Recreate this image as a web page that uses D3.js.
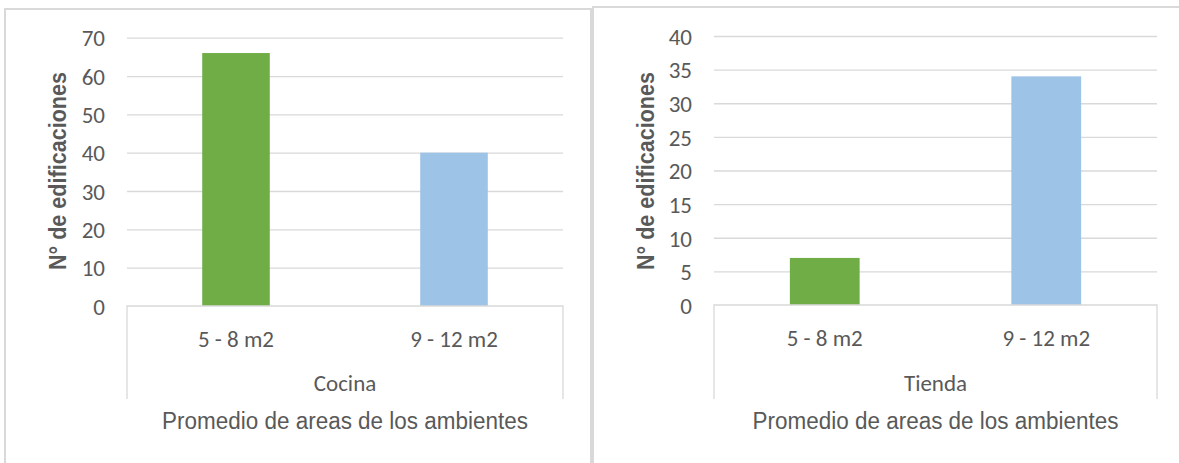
<!DOCTYPE html>
<html>
<head>
<meta charset="utf-8">
<script src="https://cdn.jsdelivr.net/npm/d3@7"></script>
<style>
  html, body { margin: 0; padding: 0; background: #fff; }
  svg { display: block; }
</style>
</head>
<body>
<svg id="chart" width="1179" height="463"></svg>
<script>
// ---- data ----
const categories = ["5 - 8 m2", "9 - 12 m2"];
const cocinaValues = [66, 40];
const tiendaValues = [7, 34];
const cocinaTicks = [0, 10, 20, 30, 40, 50, 60, 70];
const tiendaTicks = [0, 5, 10, 15, 20, 25, 30, 35, 40];
const groupLabels = ["Cocina", "Tienda"];
const yTitle = "N° de edificaciones";
const xTitle = "Promedio de areas de los ambientes";
const barColors = ["#70AD47", "#9DC3E6"];

const svg = d3.select("#chart");
const textColor = "#595959";
const gridColor = "#d9d9d9";
const tickFont = "Carlito, Lato, 'Open Sans', sans-serif";
const titleFont = "'Liberation Sans Narrow', 'Arial Narrow', 'Liberation Sans', Arial, sans-serif";

// panel frames
svg.append("rect").attr("x", 5).attr("y", 9).attr("width", 586).attr("height", 480)
  .attr("fill", "#fff").attr("stroke", gridColor).attr("stroke-width", 2);
svg.append("rect").attr("x", 593).attr("y", 7).attr("width", 600).attr("height", 480)
  .attr("fill", "#fff").attr("stroke", gridColor).attr("stroke-width", 2);

function drawPanel(cfg) {
  const g = svg.append("g");
  const y = d3.scaleLinear().domain([0, d3.max(cfg.ticks)]).range([cfg.y0, cfg.yTop]);
  const x = d3.scaleBand().domain(categories).range([cfg.left, cfg.right])
    .paddingInner(cfg.pad).paddingOuter(cfg.pad / 2);

  // gridlines
  const grid = g.append("g").attr("transform", `translate(${cfg.left},0)`)
    .call(d3.axisLeft(y).tickValues(cfg.ticks.filter(t => t > 0)).tickSize(-(cfg.right - cfg.left)).tickFormat(""));
  grid.select(".domain").remove();
  grid.selectAll("line").attr("stroke", gridColor).attr("stroke-width", 1.3);

  // y tick labels
  const ya = g.append("g").attr("transform", `translate(${cfg.left},0)`)
    .call(d3.axisLeft(y).tickValues(cfg.ticks).tickSize(0).tickPadding(22));
  ya.select(".domain").remove();
  ya.selectAll("text").attr("fill", textColor).attr("font-family", tickFont)
    .attr("font-size", 23).attr("dy", "0.36em");

  // bars
  g.selectAll("rect.bar").data(cfg.values).join("rect").attr("class", "bar")
    .attr("x", (d, i) => x(categories[i]))
    .attr("width", x.bandwidth())
    .attr("y", d => y(d))
    .attr("height", d => y(0) - y(d))
    .attr("fill", (d, i) => barColors[i]);

  // category axis box
  g.append("path")
    .attr("d", `M${cfg.left},${cfg.boxBottom}V${cfg.y0}H${cfg.right}V${cfg.boxBottom}`)
    .attr("fill", "none").attr("stroke", gridColor).attr("stroke-width", 1.3);

  // category labels
  const xa = g.append("g").attr("transform", `translate(0,${cfg.y0})`)
    .call(d3.axisBottom(x).tickSize(0).tickPadding(25));
  xa.select(".domain").remove();
  xa.selectAll("text").attr("fill", textColor).attr("font-family", tickFont)
    .attr("font-size", 23);

  const mid = (cfg.left + cfg.right) / 2;
  g.append("text").attr("x", mid).attr("y", 391).attr("text-anchor", "middle")
    .attr("fill", textColor).attr("font-family", tickFont).attr("font-size", 23)
    .text(cfg.group);

  g.append("text").attr("x", mid).attr("y", 429).attr("text-anchor", "middle")
    .attr("fill", textColor).attr("font-family", titleFont).attr("font-size", 23)
    .attr("textLength", 366).attr("lengthAdjust", "spacingAndGlyphs")
    .text(xTitle);

  g.append("text").attr("transform", `translate(${cfg.yTitleX},171) rotate(-90)`)
    .attr("text-anchor", "middle").attr("dy", "0.35em")
    .attr("fill", textColor).attr("font-family", titleFont).attr("font-size", 23)
    .attr("font-weight", "bold")
    .attr("textLength", 198).attr("lengthAdjust", "spacingAndGlyphs")
    .text(yTitle);
}

drawPanel({ values: cocinaValues, ticks: cocinaTicks, group: groupLabels[0],
  left: 127, right: 563, y0: 306, yTop: 37.7, pad: 0.69, boxBottom: 399, yTitleX: 58 });
drawPanel({ values: tiendaValues, ticks: tiendaTicks, group: groupLabels[1],
  left: 714, right: 1157, y0: 305, yTop: 36, pad: 0.685, boxBottom: 399, yTitleX: 646 });
</script>
</body>
</html>
